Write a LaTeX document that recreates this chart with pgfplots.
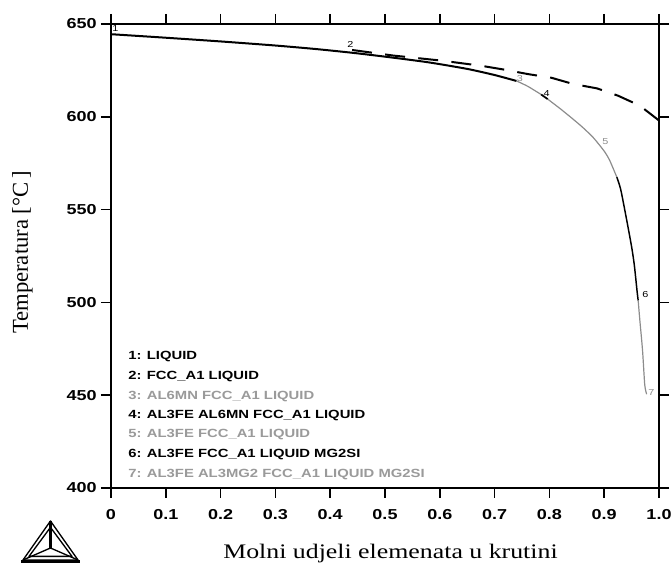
\documentclass[border=0pt]{standalone}
\usepackage{pgfplots}
\pgfplotsset{compat=1.18}
\usepackage{fontspec}
\setmainfont{Liberation Serif}
\newfontfamily\tickfont[UprightFont={* Bold}, FakeStretch=1.25]{Liberation Sans}
\newfontfamily\smallfont[FakeStretch=1.25]{Liberation Sans}
\newfontfamily\labelfont[FakeStretch=1.25]{Liberation Serif}
\definecolor{curvegray}{HTML}{8C8C8C}
\definecolor{leggray}{HTML}{9A9A9A}
\begin{document}
\begin{tikzpicture}
\begin{axis}[
  name=ax,
  scale only axis,
  width=411pt, height=348pt,
  xmin=0, xmax=1, ymin=400, ymax=650,
  axis line style={line width=1.4pt},
  every tick/.style={line width=1.3pt, black},
  major tick length=7.5pt,
  tick align=outside,
  xtick={0,0.1,0.2,0.3,0.4,0.5,0.6,0.7,0.8,0.9,1},
  xticklabels={0,0.1,0.2,0.3,0.4,0.5,0.6,0.7,0.8,0.9,1.0},
  ytick={400,450,500,550,600,650},
  xtick pos=both, ytick pos=both,
  xticklabel pos=lower, yticklabel pos=left,
  /pgf/number format/assume math mode=true,
  ticklabel style={font=\tickfont\fontsize{10.8}{12}\selectfont, inner sep=0pt},
  xticklabel style={anchor=north, yshift=-8.25pt},
  yticklabel style={anchor=east, xshift=-3pt},
  xlabel={Molni udjeli elemenata u krutini},
  ylabel={Temperatura [°C\,]},
  xlabel style={font=\labelfont\fontsize{15.5}{17}\selectfont, at={(axis description cs:0.51,-0.1509)}, anchor=base, inner sep=0pt},
  ylabel style={font=\rmfamily\fontsize{17}{19}\selectfont, at={(axis description cs:-0.1615,0.5075)}, anchor=center, inner sep=0pt},
  clip=false,
]
% equilibrium (dashed) curve
\addplot[black, line width=1.5pt, dash pattern=on 15pt off 10pt] coordinates {
(0.44,636.0) (0.515,633.0) (0.605,630.2) (0.675,627.5) (0.718,625.4) (0.761,623.0)
(0.804,621.0) (0.843,617.7) (0.887,615.3) (0.925,611.4) (0.965,606.0) (1.0,598.0)
};
% Scheil curve: segments 1-2 (black)
\addplot[black, line width=1.5pt, smooth, tension=0.4] coordinates {
(0,644.5) (0.1,642.6) (0.2,640.6) (0.3,638.4) (0.374,636.5) (0.44,634.5)
(0.5,632.4) (0.578,629.4) (0.65,625.8) (0.70,622.5) (0.74,619.3)
};
% segment 3 (gray)
\addplot[curvegray, line width=0.9pt, smooth, tension=0.4] coordinates {
(0.74,619.3) (0.76,616.5) (0.785,612.0)
};
% segment 4 (black)
\addplot[black, line width=1.3pt] coordinates {
(0.785,612.0) (0.797,609.5)
};
% segment 5 (gray)
\addplot[curvegray, line width=0.9pt, smooth, tension=0.4] coordinates {
(0.797,609.5) (0.82,604.3) (0.84,599.5) (0.86,594.5) (0.88,588.8) (0.90,581.5) (0.91,576.5) (0.923,567.5)
};
% segment 6 (black)
\addplot[black, line width=1.1pt, smooth, tension=0.4] coordinates {
(0.923,567.5) (0.93,561.0) (0.94,546.0) (0.95,530.0) (0.955,520.0) (0.96,506.0) (0.962,501.0)
};
% segment 7 (gray)
\addplot[curvegray, line width=0.9pt, smooth, tension=0.4] coordinates {
(0.962,501.0) (0.965,490.5) (0.97,474.0) (0.974,455.5) (0.9775,450.5)
};
% curve labels
\begin{scope}[every node/.style={font=\smallfont\fontsize{6.5}{7}\selectfont, inner sep=0pt}]
\node[black] at (axis cs:0.008,647.6) {1};
\node[black] at (axis cs:0.437,638.8) {2};
\node[curvegray] at (axis cs:0.746,620.8) {3};
\node[black] at (axis cs:0.795,612.6) {4};
\node[curvegray] at (axis cs:0.902,586.6) {5};
\node[black] at (axis cs:0.975,504.0) {6};
\node[curvegray] at (axis cs:0.986,451.5) {7};
\end{scope}
% legend text
\begin{scope}[every node/.style={anchor=base west, inner sep=0pt, font=\tickfont\fontsize{8.9}{10}\selectfont}]
\node[black] at (rel axis cs:0.031,0.2759) {1: LIQUID};
\node[black] at (rel axis cs:0.031,0.2328) {2: FCC\_A1 LIQUID};
\node[leggray] at (rel axis cs:0.031,0.1897) {3: AL6MN FCC\_A1 LIQUID};
\node[black] at (rel axis cs:0.031,0.1502) {4: AL3FE AL6MN FCC\_A1 LIQUID};
\node[leggray] at (rel axis cs:0.031,0.1093) {5: AL3FE FCC\_A1 LIQUID};
\node[black] at (rel axis cs:0.031,0.0662) {6: AL3FE FCC\_A1 LIQUID MG2SI};
\node[leggray] at (rel axis cs:0.031,0.0231) {7: AL3FE AL3MG2 FCC\_A1 LIQUID MG2SI};
\end{scope}
\end{axis}
% Thermo-Calc style logo
\begin{scope}[shift={(ax.south west)}, line width=1pt, line join=round]
\draw (-66pt,-54pt) -- (-45.4pt,-24.75pt) -- (-24.75pt,-54pt) -- cycle;
\draw (-61.5pt,-51.3pt) -- (-45.4pt,-29.5pt) -- (-29.25pt,-51.3pt) -- cycle;
\draw[line width=1.6pt] (-45.4pt,-24.75pt) -- (-45.4pt,-45pt);
\draw (-66pt,-54pt) -- (-45.4pt,-45pt) -- (-24.75pt,-54pt);
\fill (-67.5pt,-56.25pt) rectangle (-23.25pt,-54pt);
\end{scope}
\pgfresetboundingbox
\path[use as bounding box] ([shift={(-83.25pt,-58.5pt)}]ax.south west) rectangle ([shift={(9pt,18pt)}]ax.north east);
\end{tikzpicture}
\end{document}
